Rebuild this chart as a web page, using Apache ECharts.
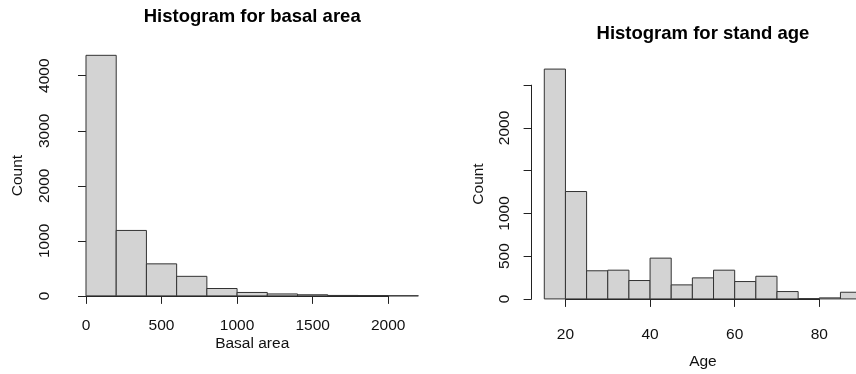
<!DOCTYPE html>
<html>
<head>
<meta charset="utf-8">
<title>Histograms: basal area and stand age</title>
<script src="https://cdn.jsdelivr.net/npm/echarts@6.0.0/dist/echarts.min.js"></script>
<style>
  html, body { margin: 0; padding: 0; background: #fff; }
  #chart { width: 856px; height: 374px; }
</style>
</head>
<body>
<div id="chart"></div>
<script>
// Basal area histogram: bin edges and counts
const basalBreaks = [0, 200, 400, 600, 800, 1000, 1200, 1400, 1600, 1800, 2000, 2200];
const basalCounts = [4371, 1189, 582, 355, 134, 62, 35, 20, 8, 6, 2];
const basalTicks = [0, 500, 1000, 1500, 2000];
const basalCountTicks = [0, 1000, 2000, 3000, 4000];
const basalCountLabels = [0, 1000, 2000, 3000, 4000];

// Stand age histogram: bin edges and counts
const ageBreaks = [15, 20, 25, 30, 35, 40, 45, 50, 55, 60, 65, 70, 75, 80, 85, 90];
const ageCounts = [2688, 1256, 329, 336, 215, 477, 164, 246, 336, 203, 265, 86, 3, 12, 78];
const ageTicks = [20, 40, 60, 80];
const ageCountTicks = [0, 500, 1000, 1500, 2000, 2500];
const ageCountLabels = [0, 500, 1000, 2000];

const FONT = '"Liberation Sans", Arial, Helvetica, sans-serif';
const TEXT = '#111';
const FS = 15.5;

// R-style plotting range: data range padded by 4% on each side
function padRange(lo, hi) {
  const d = (hi - lo) * 0.04;
  return [lo - d, hi + d];
}

function histData(breaks, counts) {
  return counts.map((c, i) => [breaks[i], breaks[i + 1], c]);
}

function renderBar(params, api) {
  const top = api.coord([api.value(0), api.value(2)]);
  const base = api.coord([api.value(1), 0]);
  return {
    type: 'rect',
    shape: { x: top[0], y: top[1], width: base[0] - top[0], height: base[1] - top[1] },
    style: { fill: '#d3d3d3', stroke: '#333', lineWidth: 1 }
  };
}

const plainNumber = v => String(v);

// Builds one histogram panel: a plot region holding the bars and axis titles,
// plus an inner grid whose axes span only the tick range, drawn offset from the bars.
function buildPanel(p, idx) {
  const xr = padRange(p.breaks[0], p.breaks[p.breaks.length - 1]);
  const yr = padRange(0, Math.max.apply(null, p.counts));
  const px = v => p.region.left + (v - xr[0]) / (xr[1] - xr[0]) * p.region.width;
  const py = v => p.region.top + p.region.height - (v - yr[0]) / (yr[1] - yr[0]) * p.region.height;

  const xT0 = p.xTicks[0], xT1 = p.xTicks[p.xTicks.length - 1];
  const yT0 = p.yTicks[0], yT1 = p.yTicks[p.yTicks.length - 1];
  const axisGrid = {
    left: px(xT0), width: px(xT1) - px(xT0),
    top: py(yT1), height: py(yT0) - py(yT1),
    outerBoundsMode: 'none', containLabel: false
  };
  const plotGrid = {
    left: p.region.left, width: p.region.width,
    top: p.region.top, height: p.region.height,
    outerBoundsMode: 'none', containLabel: false
  };
  const regionBottom = p.region.top + p.region.height;
  const g0 = idx * 2, g1 = idx * 2 + 1;
  const hidden = {
    axisLine: { show: false }, axisTick: { show: false },
    axisLabel: { show: false }, splitLine: { show: false }
  };
  const lineStyle = { color: '#222', width: 1 };
  const labelStyle = { color: TEXT, fontSize: FS, fontFamily: FONT };

  return {
    title: {
      text: p.title, left: px((xr[0] + xr[1]) / 2), top: p.titleTop,
      textAlign: 'center', padding: 0,
      textStyle: { fontSize: 18.5, fontWeight: 'bold', color: '#000', fontFamily: FONT }
    },
    grids: [plotGrid, axisGrid],
    xAxes: [
      Object.assign({
        type: 'value', gridIndex: g0, min: xr[0], max: xr[1],
        name: p.xName, nameLocation: 'middle', nameGap: p.xNameGap,
        nameTextStyle: labelStyle
      }, hidden),
      {
        type: 'value', gridIndex: g1, min: xT0, max: xT1,
        offset: regionBottom - py(0),
        axisLine: { show: true, lineStyle },
        axisTick: { show: true, inside: false, length: 8, lineStyle, customValues: p.xTicks },
        axisLabel: { show: true, margin: p.xLabelMargin, customValues: p.xTicks, formatter: plainNumber, color: TEXT, fontSize: FS, fontFamily: FONT },
        splitLine: { show: false }
      }
    ],
    yAxes: [
      Object.assign({
        type: 'value', gridIndex: g0, min: yr[0], max: yr[1],
        name: 'Count', nameLocation: 'middle', nameGap: p.yNameGap,
        nameTextStyle: labelStyle
      }, hidden),
      {
        type: 'value', gridIndex: g1, min: yT0, max: yT1,
        offset: px(xT0) - p.region.left,
        axisLine: { show: true, lineStyle },
        axisTick: { show: true, inside: false, length: 8, lineStyle, customValues: p.yTicks },
        axisLabel: { show: true, rotate: 90, margin: p.yLabelMargin, customValues: p.yLabels, formatter: plainNumber, color: TEXT, fontSize: FS, fontFamily: FONT },
        splitLine: { show: false }
      }
    ],
    series: [{
      type: 'custom', xAxisIndex: g0, yAxisIndex: g0,
      data: histData(p.breaks, p.counts),
      renderItem: renderBar, clip: false, silent: true
    }]
  };
}

const panels = [
  buildPanel({
    title: 'Histogram for basal area', titleTop: 7,
    breaks: basalBreaks, counts: basalCounts,
    xTicks: basalTicks, yTicks: basalCountTicks, yLabels: basalCountLabels,
    xName: 'Basal area', xNameGap: 30, yNameGap: 47, xLabelMargin: 12, yLabelMargin: 20,
    region: { left: 72.7, top: 45.7, width: 359, height: 259.8 }
  }, 0),
  buildPanel({
    title: 'Histogram for stand age', titleTop: 24,
    breaks: ageBreaks, counts: ageCounts,
    xTicks: ageTicks, yTicks: ageCountTicks, yLabels: ageCountLabels,
    xName: 'Age', xNameGap: 46, yNameGap: 45, xLabelMargin: 19, yLabelMargin: 19,
    region: { left: 531.6, top: 59.9, width: 342.7, height: 248.2 }
  }, 1)
];

const option = {
  animation: false,
  backgroundColor: '#ffffff',
  textStyle: { fontFamily: FONT },
  title: panels.map(p => p.title),
  grid: [].concat.apply([], panels.map(p => p.grids)),
  xAxis: [].concat.apply([], panels.map(p => p.xAxes)),
  yAxis: [].concat.apply([], panels.map(p => p.yAxes)),
  series: [].concat.apply([], panels.map(p => p.series))
};

const chart = echarts.init(document.getElementById('chart'), null, { renderer: 'canvas' });
chart.setOption(option);
</script>
</body>
</html>
